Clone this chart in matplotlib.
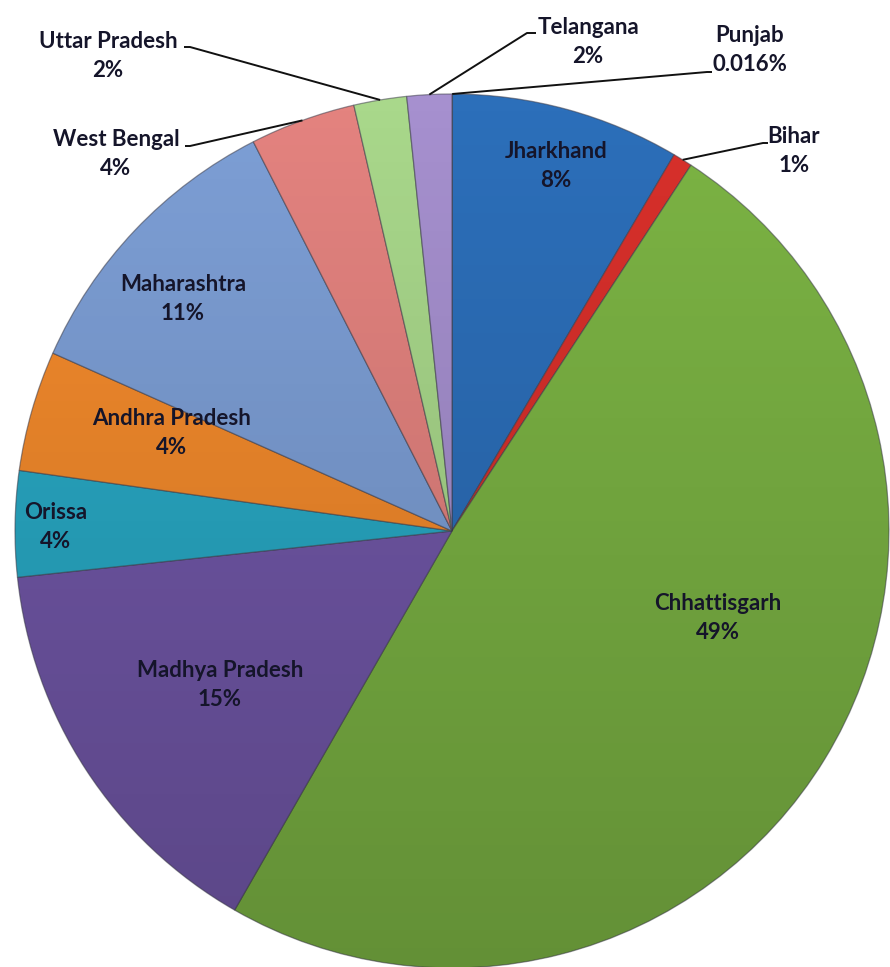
import numpy as np
import matplotlib
matplotlib.use("Agg")
import matplotlib.pyplot as plt
from matplotlib.patches import Circle
from matplotlib.colors import LinearSegmentedColormap

# Share of each state (percent), clockwise from twelve o'clock
states = ["Punjab", "Jharkhand", "Bihar", "Chhattisgarh", "Madhya Pradesh",
          "Orissa", "Andhra Pradesh", "Maharashtra", "West Bengal",
          "Uttar Pradesh", "Telangana"]
shares = [0.016, 8.46, 0.72, 49.0, 15.0, 3.9, 4.45, 10.8, 3.9, 1.95, 1.65]

colors = ["#4f81bd", "#2c6fba", "#d9302b", "#7cb444", "#7258a9",
          "#29aac6", "#f58b2c", "#7d9fd6", "#e4837f", "#a9d88b", "#a690cf"]

W, H = 890, 967
CX, CY, R = 452, 531, 437


def fy(y):
    """Convert a top-down pixel row to the axes' y coordinate."""
    return H - y


def pct_text(v):
    return f"{v:.3f}%" if v < 0.1 else f"{v:.0f}%"


plt.rcParams["font.family"] = ["Lato", "DejaVu Sans"]

fig = plt.figure(figsize=(W / 100, H / 100), dpi=100)
ax = fig.add_axes([0, 0, 1, 1])

wedges, _ = ax.pie(shares, colors=colors, center=(CX, fy(CY)), radius=R,
                   startangle=90, counterclock=False,
                   wedgeprops=dict(edgecolor=(0.25, 0.25, 0.3, 0.55),
                                   linewidth=0.9))

# vertical shading: darker toward the bottom of the pie
grad = np.linspace(0, 1, 256).reshape(-1, 1)
shade = LinearSegmentedColormap.from_list(
    "shade", [(0, 0, 0, 0.0), (0, 0, 0, 0.2)])
img = ax.imshow(grad, extent=[CX - R, CX + R, fy(CY + R), fy(CY - R)],
                origin="upper", cmap=shade, aspect="auto", zorder=3)
img.set_clip_path(Circle((CX, fy(CY)), R, transform=ax.transData))

ax.set_xlim(0, W)
ax.set_ylim(0, H)
ax.set_aspect("equal")
ax.axis("off")

# label centres (top-down pixels)
label_pos = {
    "Punjab": (750, 50),
    "Jharkhand": (556, 166),
    "Bihar": (794, 151),
    "Chhattisgarh": (718, 618),
    "Madhya Pradesh": (220, 685),
    "Orissa": (56, 527),
    "Andhra Pradesh": (172, 433),
    "Maharashtra": (183, 299),
    "West Bengal": (116, 154),
    "Uttar Pradesh": (108, 56),
    "Telangana": (588, 42),
}
# leader line ends next to outside labels
leader_end = {
    "Punjab": [(707, 72), (712, 72)],
    "Bihar": [(763, 143), (768, 143)],
    "Telangana": [(527, 33), (536, 33)],
    "Uttar Pradesh": [(190, 47), (184, 47)],
    "West Bengal": [(190, 146), (185, 146)],
}

total = sum(shares)
cum = 0.0
for name, v in zip(states, shares):
    mid = (cum + v / 2) / total * 2 * np.pi
    cum += v
    x, y = label_pos[name]
    ax.text(x, fy(y), f"{name}\n{pct_text(v / total * 100)}",
            ha="center", va="center", ma="center", fontsize=16,
            fontweight="bold", color="#15152a", linespacing=1.5, zorder=6)
    if name in leader_end:
        sx = CX + R * np.sin(mid)
        sy = CY - R * np.cos(mid)
        pts = [(sx, sy)] + leader_end[name]
        ax.plot([p[0] for p in pts], [fy(p[1]) for p in pts],
                color="#111111", lw=1.4, zorder=5, solid_capstyle="butt")

fig.savefig("out.png", dpi=100, facecolor="white")
